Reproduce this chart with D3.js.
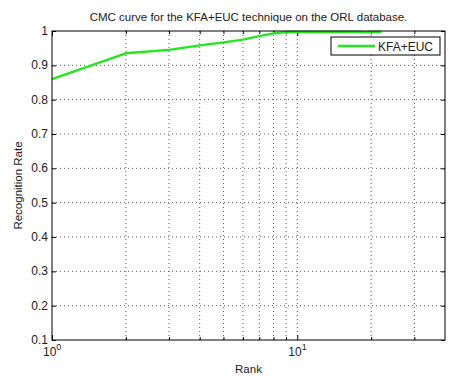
<html lang="en">
  <head>
    <meta charset="UTF-8" />
    <title>CMC curve</title>
    <script src="https://d3js.org/d3.v7.min.js"></script>
  </head>
  <body>
    <style>
      body {
        background-color: #ffffff;
        margin: 0;
        padding: 0;
        font-family: "Liberation Sans", Arial, sans-serif;
      }
      svg {
        display: block;
      }
      text {
        fill: #222;
      }
    </style>
    <script>
      const w = 451;
      const h = 376;
      const margin = { top: 31, right: 6, bottom: 36, left: 52 };

      const ranks = [1, 2, 3, 4, 5, 6, 7, 8, 9, 10, 11, 12, 13, 14, 15, 16, 17, 18, 19, 20, 21, 22];
      const rates = [0.86, 0.935, 0.945, 0.958, 0.967, 0.975, 0.985, 0.993, 0.997, 0.997, 0.997,
        0.997, 0.997, 0.997, 0.997, 0.997, 0.997, 0.997, 0.996, 0.997, 0.997, 0.997];
      const yTicks = [0.1, 0.2, 0.3, 0.4, 0.5, 0.6, 0.7, 0.8, 0.9, 1];
      const xMajor = [1, 10];
      const xMinor = [2, 3, 4, 5, 6, 7, 8, 9, 20, 30];
      const title = "CMC curve for the KFA+EUC technique on the ORL database.";
      const seriesName = "KFA+EUC";

      const svg = d3.select("body").append("svg").attr("width", w).attr("height", h);
      svg.append("rect").attr("width", w).attr("height", h).attr("fill", "#fff");

      const x = d3.scaleLog().domain([1, 40]).range([margin.left, w - margin.right]);
      const y = d3.scaleLinear().domain([0.1, 1]).range([h - margin.bottom, margin.top]);
      const [x0, x1] = x.range();
      const [y0, y1] = y.range();

      // grid (dotted)
      const grid = svg.append("g").attr("stroke", "#333").attr("stroke-width", 0.8)
        .attr("stroke-dasharray", "1,3");
      grid.selectAll(".gy").data(yTicks.slice(1, -1)).enter().append("line")
        .attr("x1", x0).attr("x2", x1)
        .attr("y1", (d) => y(d)).attr("y2", (d) => y(d));
      grid.selectAll(".gx").data(xMajor.concat(xMinor).filter((d) => d > 1)).enter().append("line")
        .attr("x1", (d) => x(d)).attr("x2", (d) => x(d))
        .attr("y1", y1).attr("y2", y0);

      // axes with inward ticks, mirrored on the opposite side
      const axisStyle = (g) => {
        g.select(".domain").remove();
        g.selectAll("line").attr("stroke", "#000");
        g.selectAll("text").remove();
      };
      svg.append("g").attr("transform", `translate(${x0},0)`)
        .call(d3.axisRight(y).tickValues(yTicks).tickSize(4)).call(axisStyle);
      svg.append("g").attr("transform", `translate(${x1},0)`)
        .call(d3.axisLeft(y).tickValues(yTicks).tickSize(4)).call(axisStyle);
      svg.append("g").attr("transform", `translate(0,${y0})`)
        .call(d3.axisTop(x).tickValues(xMajor).tickSize(5)).call(axisStyle);
      svg.append("g").attr("transform", `translate(0,${y0})`)
        .call(d3.axisTop(x).tickValues(xMinor).tickSize(3)).call(axisStyle);
      svg.append("g").attr("transform", `translate(0,${y1})`)
        .call(d3.axisBottom(x).tickValues(xMajor).tickSize(5)).call(axisStyle);
      svg.append("g").attr("transform", `translate(0,${y1})`)
        .call(d3.axisBottom(x).tickValues(xMinor).tickSize(3)).call(axisStyle);

      // tick labels
      svg.append("g").selectAll("text").data(yTicks).enter().append("text")
        .attr("x", x0 - 4).attr("y", (d) => y(d) + 4)
        .attr("text-anchor", "end").attr("font-size", 12)
        .text((d) => (d === 1 ? "1" : d3.format(".1f")(d)));
      const xl = svg.append("g").selectAll("text").data(xMajor).enter().append("text")
        .attr("x", (d) => x(d) - 9).attr("y", y0 + 16).attr("font-size", 12);
      xl.append("tspan").text("10");
      xl.append("tspan").attr("dy", -6).attr("font-size", 9).text((d) => Math.log10(d));

      // curve
      const line = d3.line().x((d, i) => x(ranks[i])).y((d) => y(d));
      svg.append("path").datum(rates)
        .attr("fill", "none").attr("stroke", "#22e622").attr("stroke-width", 2.4)
        .attr("stroke-linejoin", "round").attr("d", line);

      // box
      svg.append("rect").attr("x", x0).attr("y", y1)
        .attr("width", x1 - x0).attr("height", y0 - y1)
        .attr("fill", "none").attr("stroke", "#000").attr("stroke-width", 1);

      // legend
      const legend = svg.append("g").attr("transform", "translate(331,37)");
      legend.append("rect").attr("width", 109).attr("height", 18)
        .attr("fill", "#fff").attr("stroke", "#000");
      legend.append("line").attr("x1", 7).attr("x2", 44).attr("y1", 9).attr("y2", 9)
        .attr("stroke", "#22e622").attr("stroke-width", 2.4);
      legend.append("text").attr("x", 47).attr("y", 14).attr("font-size", 12).text(seriesName);

      // titles
      svg.append("text").attr("x", (x0 + x1) / 2).attr("y", 21)
        .attr("text-anchor", "middle").attr("font-size", 11.5).text(title);
      svg.append("text").attr("x", (x0 + x1) / 2).attr("y", 373)
        .attr("text-anchor", "middle").attr("font-size", 11.5).text("Rank");
      svg.append("text").attr("transform", `translate(22,${(y0 + y1) / 2}) rotate(-90)`)
        .attr("text-anchor", "middle").attr("font-size", 11.5).text("Recognition Rate");
    </script>
  </body>
</html>
